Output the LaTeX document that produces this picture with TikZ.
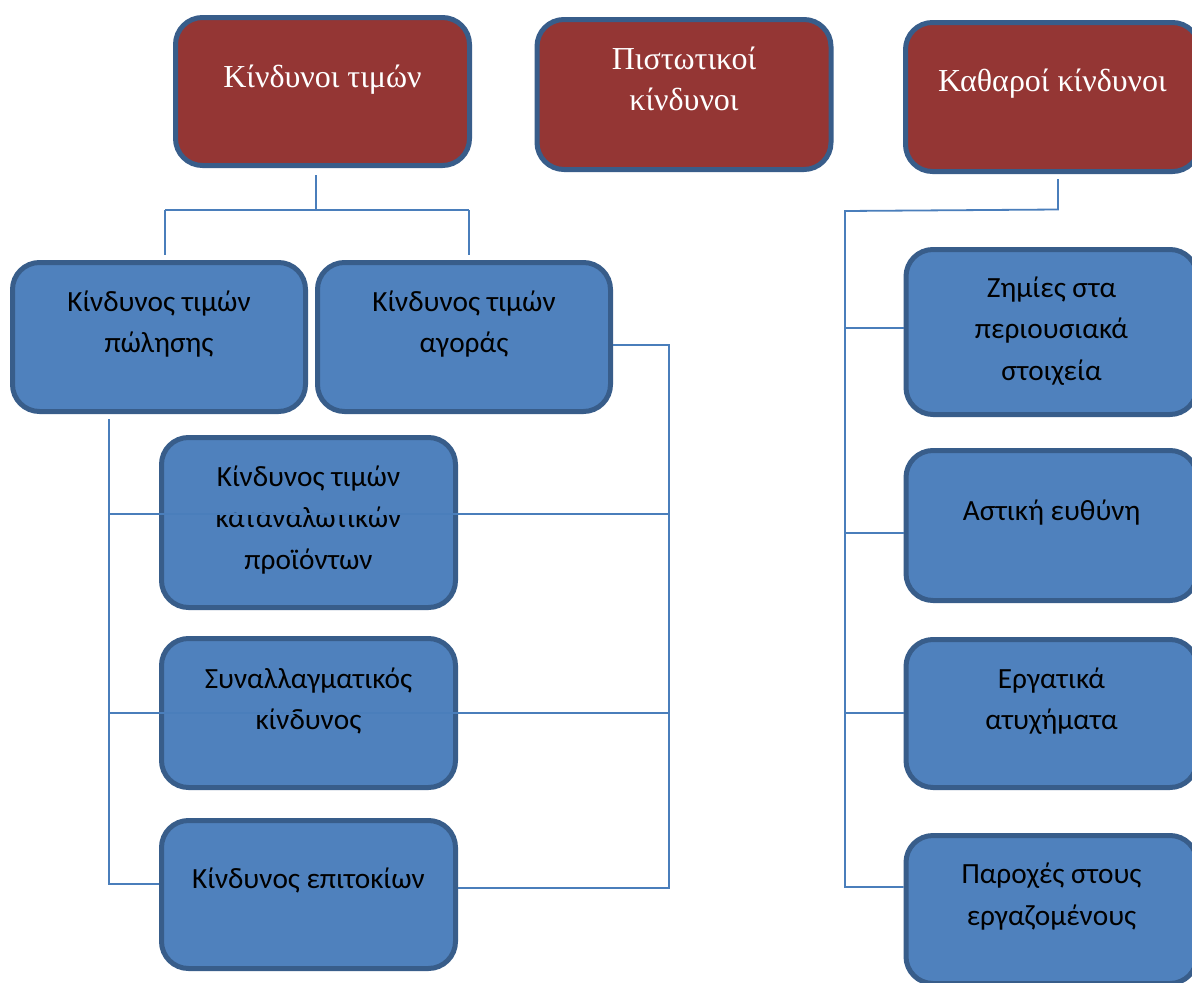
\documentclass[tikz,border=0pt]{standalone}
\usepackage{fontspec}
\setmainfont{Liberation Serif}
\newfontfamily\bluetextfont{Carlito}
\usetikzlibrary{calc}

\definecolor{redfill}{HTML}{943634}
\definecolor{bluefill}{HTML}{4F81BD}
\definecolor{framec}{HTML}{385D8A}
\definecolor{linkc}{HTML}{4A7EBB}

% text block of a box: width, height, space above the first line, lines
\newcommand\cellbody[4]{\parbox[c][#2][t]{#1}{\centering\vspace*{#3}\strut#4}}

\tikzset{
  redbox/.style={draw=framec, fill=redfill, line width=5pt, rounded corners=27pt,
    inner sep=0pt, text=white, font=\fontsize{32}{41}\selectfont},
  bluebox/.style={draw=framec, fill=bluefill, line width=5pt, rounded corners=27pt,
    inner sep=0pt, text=black, font=\bluetextfont\fontsize{29.3}{41.5}\selectfont},
  link/.style={draw=linkc, line width=1.8pt}
}

\begin{document}
\begin{tikzpicture}[x=1pt,y=-1pt]
\clip (0,0) rectangle (1192,983);
\fill[white] (0,0) rectangle (1192,983);

% top level risk groups
\node[redbox] (r1) at (322.5,91.5) {\cellbody{294pt}{148pt}{41pt}{Κίνδυνοι τιμών}};
\node[redbox] (r2) at (684,94.5)   {\cellbody{294pt}{150pt}{21.4pt}{Πιστωτικοί\\κίνδυνοι}};
\node[redbox] (r3) at (1052.5,97)  {\cellbody{294pt}{149pt}{40.5pt}{Καθαροί κίνδυνοι}};

% price risks
\node[bluebox] (b1) at (159,337)    {\cellbody{293pt}{149pt}{19.5pt}{Κίνδυνος τιμών\\πώλησης}};
\node[bluebox] (b2) at (464,337)    {\cellbody{293pt}{149pt}{19.5pt}{Κίνδυνος τιμών\\αγοράς}};
\node[bluebox] (b3) at (308.5,522.5){\cellbody{294pt}{170pt}{19.5pt}{Κίνδυνος τιμών\\καταναλωτικών\\προϊόντων}};
\node[bluebox] (b4) at (308.5,713)  {\cellbody{294pt}{149pt}{20.5pt}{Συναλλαγματικός\\κίνδυνος}};
\node[bluebox] (b5) at (308.5,894.5){\cellbody{294pt}{148pt}{38.5pt}{Κίνδυνος επιτοκίων}};

% pure risks
\node[bluebox] (b6) at (1051.5,332)  {\cellbody{291pt}{165pt}{18.5pt}{Ζημίες στα\\περιουσιακά\\στοιχεία}};
\node[bluebox] (b7) at (1051.5,525.5){\cellbody{291pt}{150pt}{40.5pt}{Αστική ευθύνη}};
\node[bluebox] (b8) at (1051.5,713.5){\cellbody{291pt}{148pt}{19.5pt}{Εργατικά\\ατυχήματα}};
\node[bluebox] (b9) at (1051.5,909.5){\cellbody{291pt}{148pt}{19pt}{Παροχές στους\\εργαζομένους}};

% junction points of the connectors
\coordinate (t0) at (316,210);
\coordinate (tl) at (165,210);
\coordinate (tr) at (469,210);
\coordinate (l1) at (109,514);
\coordinate (l2) at (109,713);
\coordinate (l3) at (109,884);
\coordinate (ra) at (669,345);
\coordinate (m1) at (669,514);
\coordinate (m2) at (669,713);
\coordinate (m3) at (669,888);
\coordinate (k0) at (1058,209.5);
\coordinate (k1) at (845,211);
\coordinate (k2) at (845,328);
\coordinate (k3) at (845,533);
\coordinate (k4) at (845,713);
\coordinate (k5) at (845,887);

% price risks tree
\draw[link] ($(r1.south -| t0)+(0,7)$) -- (t0);
\draw[link] (tl) -- (tr);
\draw[link] (tl) -- ($(b1.north -| tl)+(0,-5)$);
\draw[link] (tr) -- ($(b2.north -| tr)+(0,-5)$);

% bracket under the selling price box
\draw[link] ($(b1.south -| l1)+(0,5)$) -- (l3) -- (b5.west |- l3);
\draw[link] (l1) -- (m1);
\draw[link] (l2) -- (m2);

% bracket from the buying price box
\draw[link] (b2.east |- ra) -- (ra) -- (m3) -- (b5.east |- m3);

% pure risks tree
\draw[link] ($(r3.south -| k0)+(0,5)$) -- (k0) -- (k1) -- (k5) -- (b9.west |- k5);
\draw[link] (k2) -- (b6.west |- k2);
\draw[link] (k3) -- (b7.west |- k3);
\draw[link] (k4) -- (b8.west |- k4);
\end{tikzpicture}
\end{document}
